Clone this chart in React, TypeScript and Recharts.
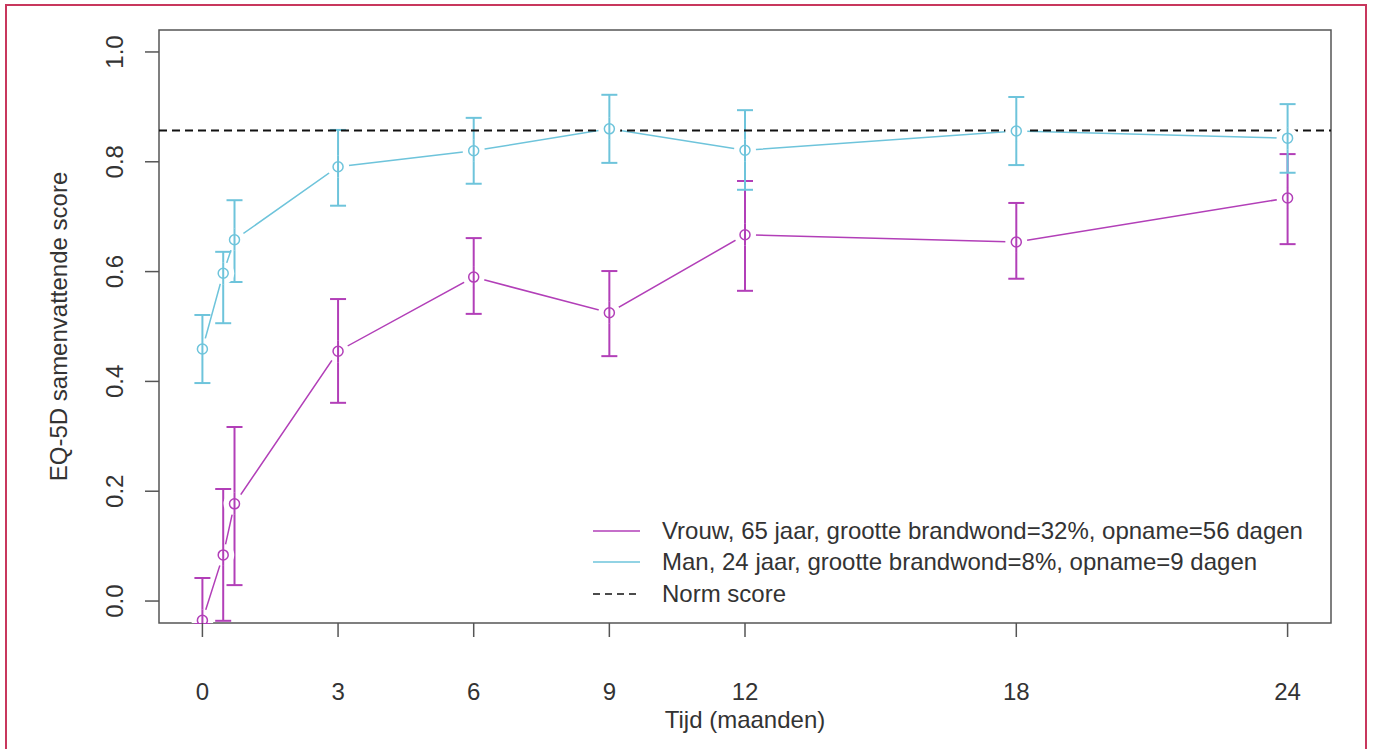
import React from "react"
import {
  ComposedChart,
  Line,
  Scatter,
  XAxis,
  YAxis,
  ErrorBar,
  ReferenceLine,
  ReferenceArea,
  Legend,
} from "recharts"

// time points in months (0, 2 weeks, 3 weeks, then follow-up)
const months = [0, 0.46, 0.71, 3, 6, 9, 12, 18, 24]

const vrouwScore = [-0.035, 0.084, 0.177, 0.455, 0.59, 0.525, 0.667, 0.654, 0.734]
const vrouwLow = [-0.04, -0.036, 0.029, 0.361, 0.523, 0.446, 0.565, 0.587, 0.65]
const vrouwHigh = [0.042, 0.204, 0.317, 0.55, 0.661, 0.601, 0.765, 0.725, 0.814]

const manScore = [0.459, 0.597, 0.658, 0.791, 0.82, 0.86, 0.821, 0.856, 0.843]
const manLow = [0.397, 0.506, 0.581, 0.72, 0.76, 0.798, 0.749, 0.794, 0.78]
const manHigh = [0.521, 0.636, 0.73, 0.858, 0.88, 0.922, 0.894, 0.918, 0.905]

const normScore = 0.857

const xTicks = [0, 3, 6, 9, 12, 18, 24]
const yTicks = [0, 0.2, 0.4, 0.6, 0.8, 1.0]

const legendLabels = [
  "Vrouw, 65 jaar, grootte brandwond=32%, opname=56 dagen",
  "Man, 24 jaar, grootte brandwond=8%, opname=9 dagen",
  "Norm score",
]

const PURPLE = "#b23fb8"
const CYAN = "#6ec4db"
const TEXT = "#333"
const FONT = "'Liberation Sans', Arial, sans-serif"

const rows = months.map((t, i) => ({
  t,
  vrouw: vrouwScore[i],
  vrouwErr: [vrouwScore[i] - vrouwLow[i], vrouwHigh[i] - vrouwScore[i]],
  man: manScore[i],
  manErr: [manScore[i] - manLow[i], manHigh[i] - manScore[i]],
}))

// white disc gives the R type="b" gap; the error bar is redrawn through it
const gapShape = (color: string) => (props: any) => (
  <g>
    <circle cx={props.cx} cy={props.cy} r={11} fill="#fff" stroke="none" />
    <line x1={props.cx} y1={props.cy - 11} x2={props.cx} y2={props.cy + 11} stroke={color} strokeWidth={2} />
  </g>
)

const ringShape = (color: string) => (props: any) => (
  <circle cx={props.cx} cy={props.cy} r={5} fill="none" stroke={color} strokeWidth={1.5} />
)

const YTick = ({ x, y, payload }: any) => (
  <text
    x={x}
    y={y}
    transform={`rotate(-90 ${x} ${y})`}
    textAnchor="middle"
    fontSize={24}
    fill={TEXT}
    fontFamily={FONT}
  >
    {payload.value.toFixed(1)}
  </text>
)

const legendItems = [
  { label: legendLabels[0], color: PURPLE, dash: undefined },
  { label: legendLabels[1], color: CYAN, dash: undefined },
  { label: legendLabels[2], color: "#111", dash: "7 5" },
]

const renderLegend = () => (
  <div style={{ fontFamily: FONT, fontSize: 24, color: TEXT }}>
    {legendItems.map((item) => (
      <div key={item.label} style={{ display: "flex", alignItems: "center", height: 31.5, whiteSpace: "nowrap" }}>
        <svg width={72} height={10}>
          <line x1={3} y1={5} x2={50} y2={5} stroke={item.color} strokeWidth={1.5} strokeDasharray={item.dash} />
        </svg>
        <span>{item.label}</span>
      </div>
    ))}
  </div>
)

export default function App() {
  return (
    <div style={{ position: "absolute", left: 0, top: 0, width: 1373, height: 749, background: "#fff", overflow: "hidden" }}>
      <div
        style={{
          position: "absolute",
          left: 5,
          top: 4,
          width: 1362,
          height: 760,
          border: "2px solid #c8375d",
          boxSizing: "border-box",
        }}
      />
      <div style={{ position: "absolute", left: 0, top: 0 }}>
        <ComposedChart width={1373} height={749} data={rows} margin={{ top: 30, right: 42, bottom: 16, left: 40 }}>
          <XAxis
            dataKey="t"
            type="number"
            domain={[-0.96, 24.96]}
            ticks={xTicks}
            allowDataOverflow
            axisLine={false}
            tickSize={14}
            tickMargin={46}
            height={110}
            tickLine={{ stroke: "#555", strokeWidth: 1.5 }}
            tick={{ fontSize: 24, fill: TEXT, fontFamily: FONT }}
            label={{ value: "Tijd (maanden)", position: "insideBottom", offset: 5, fontSize: 24, fill: TEXT, fontFamily: FONT }}
          />
          <YAxis
            type="number"
            domain={[-0.04, 1.04]}
            ticks={yTicks}
            allowDataOverflow
            axisLine={false}
            width={119}
            tickSize={14}
            tickMargin={22}
            tickLine={{ stroke: "#555", strokeWidth: 1.5 }}
            tick={<YTick />}
            label={{
              value: "EQ-5D samenvattende score",
              angle: -90,
              position: "insideLeft",
              offset: 18,
              textAnchor: "middle",
              fontSize: 24,
              fill: TEXT,
              fontFamily: FONT,
            }}
          />
          <ReferenceArea x1={-0.96} x2={24.96} y1={-0.04} y2={1.04} fill="none" stroke="#555" strokeWidth={1.5} />

          {/* connecting lines */}
          <Line dataKey="vrouw" stroke={PURPLE} strokeWidth={1.5} dot={false} activeDot={false} isAnimationActive={false} />
          <Line dataKey="man" stroke={CYAN} strokeWidth={1.5} dot={false} activeDot={false} isAnimationActive={false} />

          {/* gaps around the points */}
          <Scatter dataKey="vrouw" shape={gapShape(PURPLE)} isAnimationActive={false} />
          <Scatter dataKey="man" shape={gapShape(CYAN)} isAnimationActive={false} />

          {/* error bars and point markers */}
          <Scatter dataKey="vrouw" shape={ringShape(PURPLE)} isAnimationActive={false}>
            <ErrorBar dataKey="vrouwErr" direction="y" width={8} stroke={PURPLE} strokeWidth={2} />
          </Scatter>
          <Scatter dataKey="man" shape={ringShape(CYAN)} isAnimationActive={false}>
            <ErrorBar dataKey="manErr" direction="y" width={8} stroke={CYAN} strokeWidth={2} />
          </Scatter>

          <ReferenceLine y={normScore} stroke="#111" strokeWidth={2} strokeDasharray="8 5" />

          <Legend
            layout="vertical"
            align="center"
            verticalAlign="middle"
            content={renderLegend}
            wrapperStyle={{ left: 590, top: 515, width: 745 }}
          />
        </ComposedChart>
      </div>
    </div>
  )
}
